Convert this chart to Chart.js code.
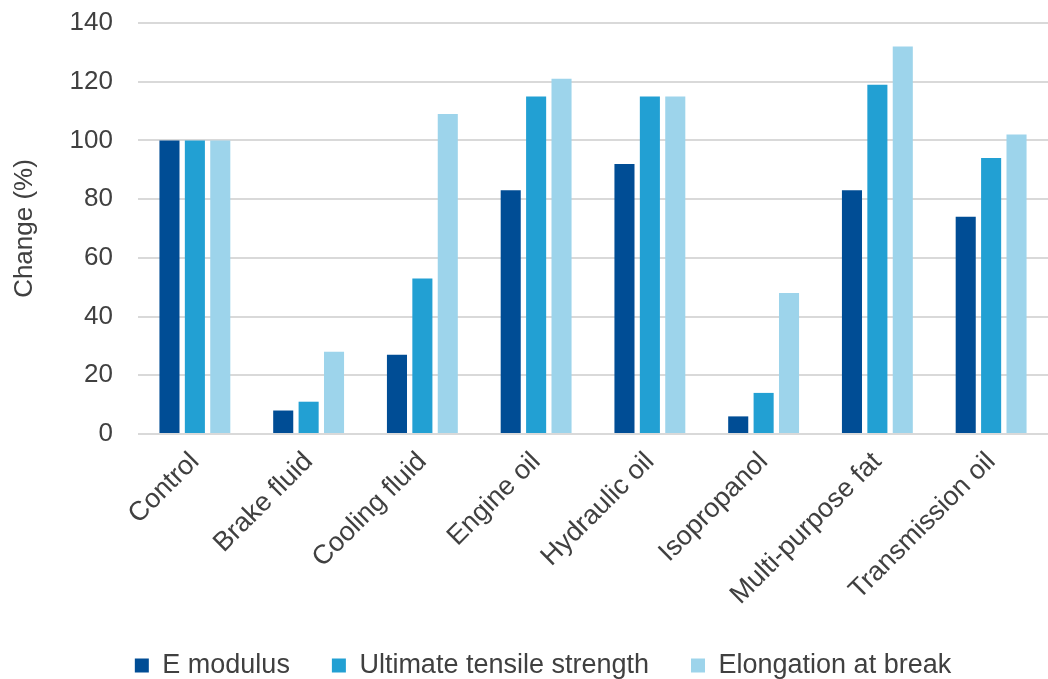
<!DOCTYPE html>
<html>
<head>
<meta charset="utf-8">
<script src="https://cdn.jsdelivr.net/npm/chart.js@4/dist/chart.umd.min.js"></script>
<style>
  html, body { margin: 0; padding: 0; background: #fff; }
  #wrap { width: 1048px; height: 679px; }
</style>
</head>
<body>
<div id="wrap"><canvas id="chart"></canvas></div>
<script>
const categories = ['Control', 'Brake fluid', 'Cooling fluid', 'Engine oil', 'Hydraulic oil', 'Isopropanol', 'Multi-purpose fat', 'Transmission oil'];
const eModulus = [100, 8, 27, 83, 92, 6, 83, 74];
const tensileStrength = [100, 11, 53, 115, 115, 14, 119, 94];
const elongation = [100, 28, 109, 121, 115, 48, 132, 102];
const yTicks = [0, 20, 40, 60, 80, 100, 120, 140];

const textColor = '#404040';
const fontFamily = 'Liberation Sans, Arial, sans-serif';

// nudge the legend to where the original has it
const legendShift = {
  id: 'legendShift',
  afterLayout(chart) {
    const lg = chart.legend;
    const dx = 19, dy = -4;
    lg.left += dx; lg.right += dx;
    lg.top += dy; lg.bottom += dy;
  }
};

const ctx = document.getElementById('chart').getContext('2d');

new Chart(ctx, {
  type: 'bar',
  data: {
    labels: categories,
    datasets: [
      { label: 'E modulus', data: eModulus, backgroundColor: '#004d95' },
      { label: 'Ultimate tensile strength', data: tensileStrength, backgroundColor: '#22a0d3' },
      { label: 'Elongation at break', data: elongation, backgroundColor: '#9dd4eb' }
    ]
  },
  plugins: [legendShift],
  options: {
    responsive: true,
    maintainAspectRatio: false,
    animation: false,
    datasets: {
      bar: { categoryPercentage: 0.67, barPercentage: 0.79 }
    },
    layout: { padding: { top: 23, left: 0, right: 0, bottom: -14 } },
    plugins: {
      legend: {
        position: 'bottom',
        labels: {
          boxWidth: 14,
          boxHeight: 14,
          padding: 42,
          color: textColor,
          font: { family: fontFamily, size: 27 }
        }
      },
      tooltip: { enabled: false }
    },
    scales: {
      x: {
        afterFit: axis => { axis.height = 180; },
        grid: { display: false },
        border: { display: false },
        ticks: {
          color: textColor,
          padding: 4,
          font: { family: fontFamily, size: 27 },
          minRotation: 45,
          maxRotation: 45
        }
      },
      y: {
        min: 0,
        max: 140,
        afterFit: axis => { axis.width = 138; axis.paddingTop = 0; },
        afterBuildTicks: axis => { axis.ticks = yTicks.map(v => ({ value: v })); },
        grid: { color: '#d9d9d9', lineWidth: 2, drawTicks: false },
        border: { display: false },
        ticks: {
          color: textColor,
          padding: 25,
          font: { family: fontFamily, size: 26 }
        },
        title: {
          display: true,
          text: 'Change (%)',
          color: textColor,
          padding: { top: 9, bottom: 4 },
          font: { family: fontFamily, size: 26 }
        }
      }
    }
  }
});
</script>
</body>
</html>
